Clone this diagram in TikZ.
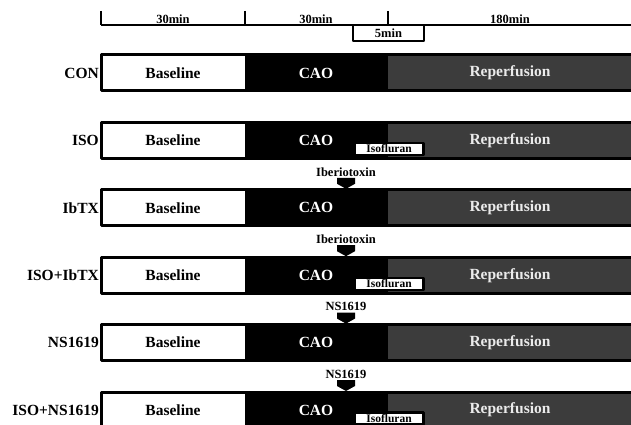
\documentclass[tikz,border=0pt]{standalone}
\usepackage{fontspec}
\setmainfont{Liberation Serif}
\usetikzlibrary{positioning}
\definecolor{reperf}{RGB}{60,60,60}
\tikzset{
  grplbl/.style={font=\bfseries\fontsize{15.5}{15.5}\selectfont,anchor=east,inner sep=0pt},
  phaselbl/.style={font=\bfseries\fontsize{15.5}{15.5}\selectfont},
  timelbl/.style={font=\bfseries\fontsize{12.5}{12.5}\selectfont,inner sep=1pt},
  drugtxt/.style={font=\bfseries\fontsize{12.5}{12.5}\selectfont,inner sep=1pt},
  isobox/.style={draw=black,fill=white,line width=2.2pt,minimum width=69pt,minimum height=12pt,
                 inner sep=0pt,font=\bfseries\fontsize{11.5}{11.5}\selectfont}
}
\begin{document}
\begin{tikzpicture}[x=1pt,y=-1pt,join=round] %protocol time line
  \useasboundingbox (0,0) rectangle (631,425);
  \clip (0,0) rectangle (631,425);
  % time scale
  \draw[line width=1.5pt] (101,25) -- (640,25);
  \foreach \t in {101,245,388}
    \draw[line width=1.5pt] (\t,11) -- (\t,25);
  \node[timelbl,above] (t1) at (173,25) {30min};
  \node[timelbl,above] (t2) at (316,25) {30min};
  \node[timelbl,above] (t3) at (510,25) {180min};
  \draw[line width=2pt] (353,25) rectangle (424,41);
  \node[timelbl] (t4) at (388.5,33.5) {5min};
  % groups
  \foreach \y/\grp [count=\k] in {55/CON,122.4/ISO,189.8/IbTX,257.2/ISO+IbTX,324.6/NS1619,392/ISO+NS1619}{
    \fill[white] (101,\y) rectangle (245,{\y+36});
    \fill[black] (245,\y) rectangle (388,{\y+36});
    \fill[reperf] (388,\y) rectangle (640,{\y+36});
    \draw[line width=3pt] (101,\y) rectangle (650,{\y+36});
    \node[grplbl] (grp\k) at (99,{\y+18}) {\grp};
    \node[phaselbl] (base\k) at (173,{\y+18}) {Baseline};
    \node[phaselbl,white] (cao\k) at (316,{\y+18}) {CAO};
    \node[phaselbl,white!92!black] (rep\k) at (510,{\y+18}) {Reperfusion};
  }
  % isoflurane
  \foreach \y [count=\k] in {122.4,257.2,392}
    \node[isobox] (iso\k) at (389,{\y+26.5}) {Isofluran};
  % drugs
  \foreach \y/\drug [count=\k] in {189.8/Iberiotoxin,257.2/Iberiotoxin,324.6/NS1619,392/NS1619}{
    \node[drugtxt] (drug\k) at (346,{\y-18}) {\drug};
    \fill (337,{\y-12}) -- (355,{\y-12}) -- (355,{\y-6}) -- (346,{\y-1}) -- (337,{\y-6}) -- cycle;
  }
\end{tikzpicture}
\end{document}
